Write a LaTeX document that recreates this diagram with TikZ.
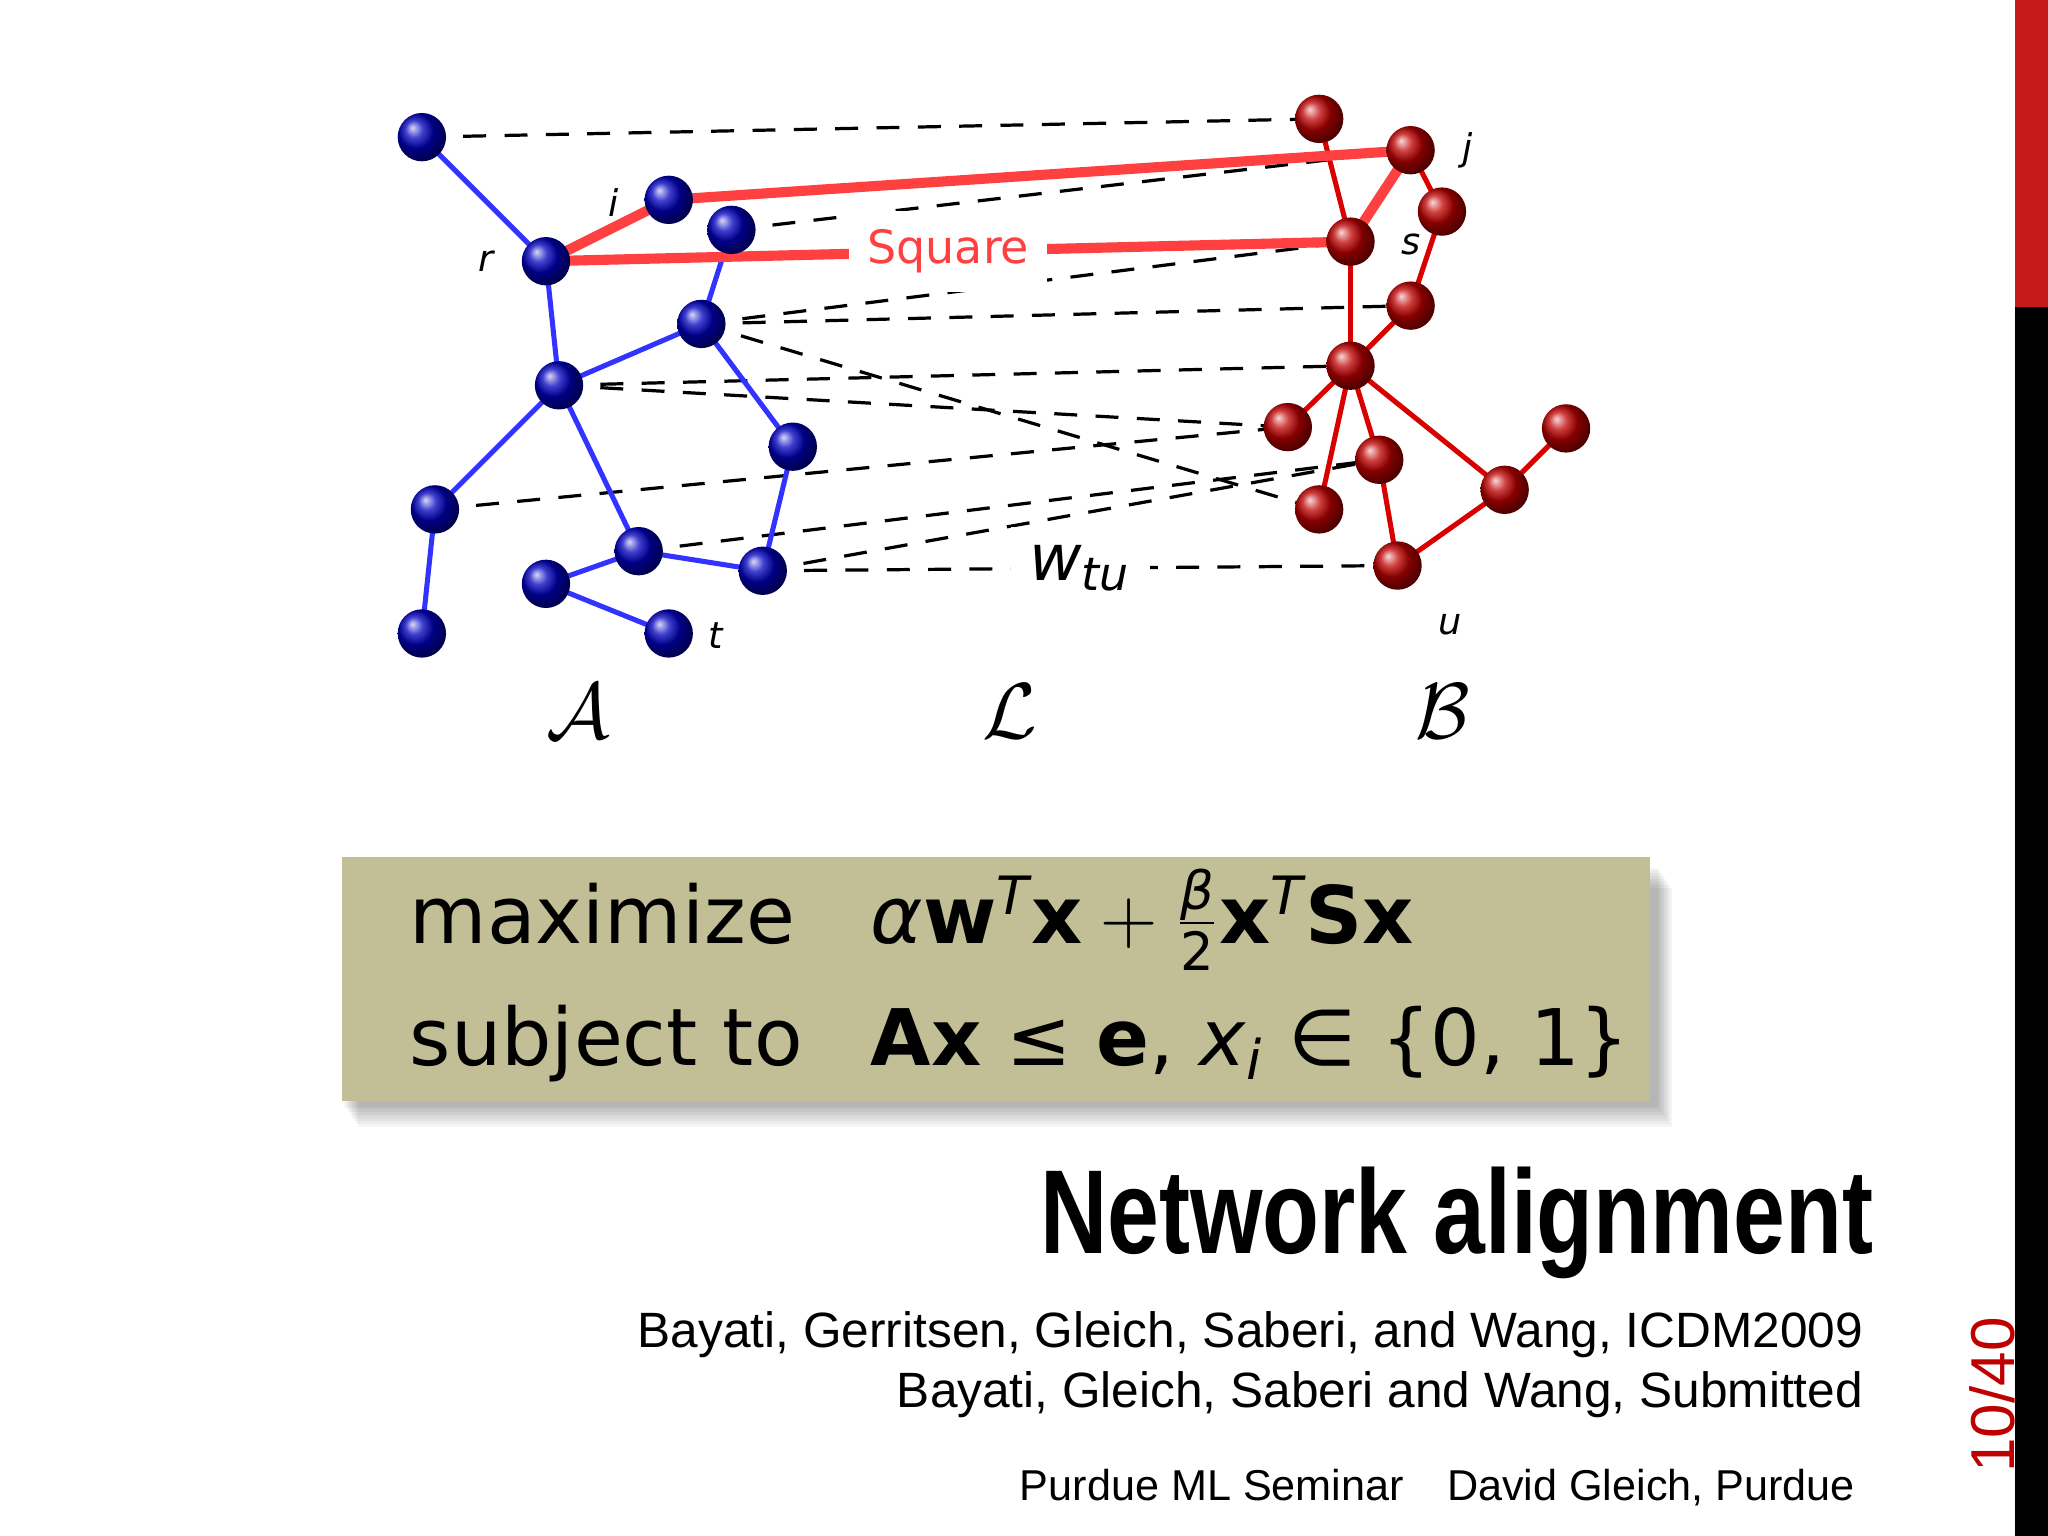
\documentclass[tikz,border=0pt]{standalone}
\usepackage{fontspec}
\setmainfont{Liberation Sans}
\newfontfamily\dv{DejaVu Sans}
\usetikzlibrary{shadows}
\newcommand{\sm}[1]{\hbox{\fontsize{11.5}{11.5}\selectfont #1}}
\begin{document}
\begin{tikzpicture}[x=0.01cm,y=-0.01cm,
 bn/.style={circle,minimum size=0.37cm,inner sep=0pt,ball color=blue!75!black},
 rn/.style={circle,minimum size=0.37cm,inner sep=0pt,ball color=red!75!black},
 be/.style={blue!80!white,line width=1.1pt},
 re/.style={red!85!black,line width=1.1pt},
 sq/.style={red!75!white,line width=2.2pt},
 dl/.style={dashed,line width=0.7pt,dash pattern=on 5pt off 4pt},
 lb/.style={font=\dv\itshape\fontsize{8}{9}\selectfont}]
\useasboundingbox (0,0) rectangle (1568,1176);
\fill[white] (0,0) rectangle (1568,1176);
\fill[red!75!black!90!white] (1543,0) rectangle (1568,235);
\fill[black] (1543,235) rectangle (1568,1176);
\coordinate (a1) at (323,105); \coordinate (i) at (512,153); \coordinate (a3) at (560,176);
\coordinate (r) at (418,200); \coordinate (a5) at (537,248); \coordinate (a6) at (428,295);
\coordinate (a7) at (607,342); \coordinate (a8) at (333,390); \coordinate (a9) at (489,422);
\coordinate (a10) at (584,437); \coordinate (a11) at (418,447); \coordinate (a12) at (323,485);
\coordinate (t) at (512,485);
\coordinate (b1) at (1010,91); \coordinate (j) at (1080,115); \coordinate (b3) at (1104,162);
\coordinate (s) at (1034,185); \coordinate (b5) at (1080,234); \coordinate (b6) at (1034,280);
\coordinate (b7) at (986,327); \coordinate (b8) at (1199,328); \coordinate (b9) at (1056,352);
\coordinate (b10) at (1010,390); \coordinate (b11) at (1152,375); \coordinate (u) at (1070,433);
\draw[dl] (a1)--(b1); \draw[dl] (a3)--(j); \draw[dl] (a5)--(s); \draw[dl] (a5)--(b5);
\draw[dl] (a5)--(b10); \draw[dl] (a6)--(b6); \draw[dl] (a6)--(b7); \draw[dl] (a8)--(b7);
\draw[dl] (a9)--(b9); \draw[dl] (a10)--(1040,355);
\draw[dl] (a10)--(u) node[pos=0.5,fill=white,inner sep=4pt,font=\dv\itshape\fontsize{14}{15}\selectfont]{w\textsubscript{\fontsize{10}{10}\selectfont tu}};
\foreach \p/\q in {a1/r,r/a6,a3/a5,a5/a6,a5/a7,a6/a8,a6/a9,a7/a10,a8/a12,a9/a10,a9/a11,a11/t}
  \draw[be] (\p)--(\q);
\foreach \p/\q in {b1/s,j/b3,b3/b5,s/b6,b5/b6,b6/b7,b6/b9,b6/b10,b6/b11,b11/b8,b9/u,b11/u}
  \draw[re] (\p)--(\q);
\draw[sq] (r)--(i)--(j)--(s);
\draw[sq] (r)--(s) node[pos=0.50,fill=white,inner sep=4pt,text=red!75!white,font=\dv\fontsize{10}{11}\selectfont]{Square};
\foreach \n in {a1,i,a3,r,a5,a6,a7,a8,a9,a10,a11,a12,t} \node[bn] (n\n) at (\n) {};
\foreach \n in {b1,j,b3,s,b5,b6,b7,b8,b9,b10,b11,u} \node[rn] (n\n) at (\n) {};
\node[lb] (li) at (470,155) {i}; \node[lb] (lr) at (372,200) {r};
\node[lb] (lj) at (1124,115) {j}; \node[lb] (ls) at (1080,187) {s};
\node[lb] (lt) at (548,487) {t}; \node[lb] (lu) at (1110,478) {u};
\node (cA) at (443,545) {\fontsize{18}{20}\selectfont$\mathcal{A}$};
\node (cL) at (773,545) {\fontsize{18}{20}\selectfont$\mathcal{L}$};
\node (cB) at (1105,545) {\fontsize{18}{20}\selectfont$\mathcal{B}$};
\foreach \k in {1,...,8} \fill[black,opacity=0.04] (262+\k*1.5,662+\k*2.2) rectangle (1268+\k*1.5,845+\k*2.2);
\fill[fill={rgb,255:red,194;green,190;blue,150}] (262,656) rectangle (1263,843);
\node[anchor=base west,inner sep=0pt,font=\dv\fontsize{17.3}{19}\selectfont] (mx) at (313,722) {maximize};
\node[anchor=base west,inner sep=0pt,font=\dv\fontsize{17.3}{19}\selectfont] (st) at (313,816) {subject to};
\node[anchor=base west,font=\dv\fontsize{17.3}{19}\selectfont,inner sep=0pt] (f1) at (666,722)
 {$\hbox{\itshape α}\hbox{\bfseries w}^{\sm{\itshape T}}\hbox{\bfseries x}+\frac{\sm{\itshape β}}{\sm{2}}\hbox{\bfseries x}^{\sm{\itshape T}}\hbox{\bfseries Sx}$};
\node[anchor=base west,font=\dv\fontsize{17}{19}\selectfont,inner sep=0pt] (f2) at (666,816)
 {\textbf{Ax} ≤ \textbf{e}, \textit{x}\textsubscript{\textit{i}} ∈ \{0, 1\}};
\node[anchor=base east,inner sep=0pt] (title) at (1435,960) {\scalebox{0.78}[1]{\fontsize{26}{28}\selectfont\bfseries Network alignment}};
\node[anchor=base east,inner sep=0pt,font=\fontsize{10.8}{12}\selectfont] (r1) at (1427,1032) {Bayati, Gerritsen, Gleich, Saberi, and Wang, ICDM2009};
\node[anchor=base east,inner sep=0pt,font=\fontsize{10.8}{12}\selectfont] (r2) at (1427,1078) {Bayati, Gleich, Saberi and Wang, Submitted};
\node[anchor=base east,inner sep=0pt,font=\fontsize{9.4}{11}\selectfont] (ft) at (1421,1149) {Purdue ML Seminar\quad David Gleich, Purdue};
\node[rotate=90,anchor=base,inner sep=0pt,text=red!75!black,font=\fontsize{13.5}{14}\selectfont] (pg) at (1542,1068) {10/40};
\end{tikzpicture}
\end{document}
